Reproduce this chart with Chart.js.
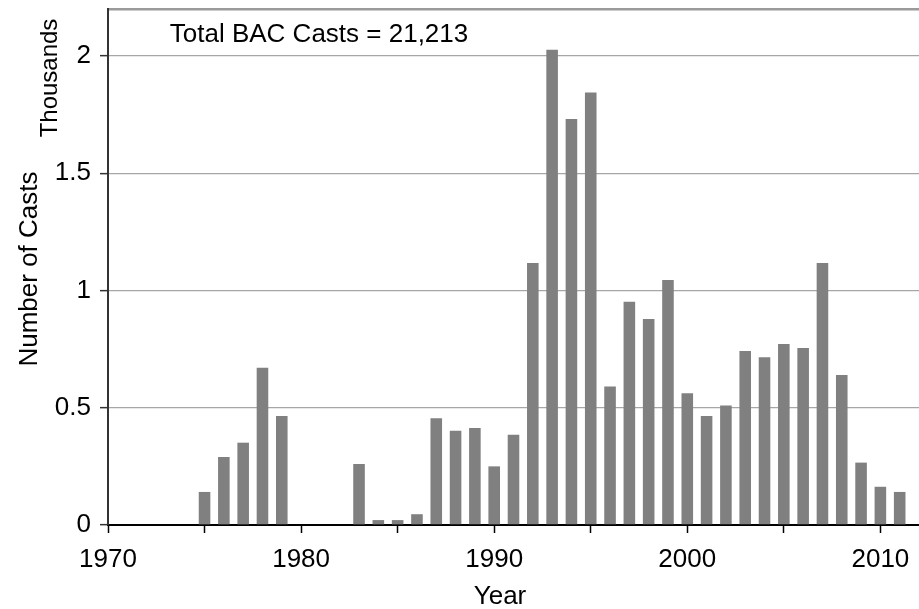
<!DOCTYPE html>
<html>
<head>
<meta charset="utf-8">
<script src="https://cdn.jsdelivr.net/npm/chart.js@4/dist/chart.umd.min.js"></script>
<style>
html,body{margin:0;padding:0;background:#fff;}
#wrap{width:919px;height:609px;}
canvas{display:block;}
</style>
</head>
<body>
<div id="wrap"><canvas id="c" width="919" height="609"></canvas></div>
<script>
// ---- data (values in thousands of casts) ----
const years = [1975,1976,1977,1978,1979,1980,1981,1982,1983,1984,1985,1986,1987,1988,1989,1990,1991,1992,1993,1994,1995,1996,1997,1998,1999,2000,2001,2002,2003,2004,2005,2006,2007,2008,2009,2010,2011];
const casts = [0.141,0.290,0.351,0.670,0.465,0,0,0,0.260,0.021,0.021,0.046,0.455,0.402,0.414,0.250,0.385,1.117,2.026,1.731,1.844,0.590,0.952,0.878,1.045,0.562,0.465,0.510,0.742,0.715,0.772,0.755,1.117,0.640,0.266,0.163,0.141];
const xTickMarks = [1970,1975,1980,1985,1990,1995,2000,2005,2010];
const xTickLabels = [1970,1980,1990,2000,2010];
const yTicks = [0,0.5,1,1.5,2];
const xMin = 1970, xMax = 2012, yMin = 0, yMax = 2.2;
const totalLabel = 'Total BAC Casts = 21,213';
const yTitle = 'Number of Casts';
const yUnit = 'Thousands';
const xTitle = 'Year';

const FONT = '"Liberation Sans", Arial, sans-serif';
Chart.defaults.font.family = FONT;
Chart.defaults.color = '#000';

const textPlugin = {
  id: 'texts',
  afterDraw(chart) {
    const ctx = chart.ctx;
    const xs = chart.scales.x, ys = chart.scales.y;
    ctx.save();
    ctx.fillStyle = '#000';
    ctx.textBaseline = 'alphabetic';
    ctx.font = '26px ' + FONT;
    ctx.textAlign = 'left';
    ctx.fillText(totalLabel, xs.getPixelForValue(1973.2), ys.getPixelForValue(2.06));
    ctx.textAlign = 'center';
    ctx.fillText(xTitle, 500, 604);
    ctx.save();
    ctx.translate(36.5, 269);
    ctx.rotate(-Math.PI / 2);
    ctx.fillText(yTitle, 0, 0);
    ctx.restore();
    ctx.save();
    ctx.font = '24px ' + FONT;
    ctx.translate(57, 78);
    ctx.rotate(-Math.PI / 2);
    ctx.fillText(yUnit, 0, 0);
    ctx.restore();
    ctx.restore();
  }
};

new Chart(document.getElementById('c'), {
  type: 'bar',
  data: {
    datasets: [{
      data: years.map((yr, i) => ({ x: yr, y: casts[i] })),
      backgroundColor: '#808080',
      borderWidth: 0,
      categoryPercentage: 1,
      barPercentage: 0.6
    }]
  },
  options: {
    responsive: false,
    animation: false,
    devicePixelRatio: 1,
    layout: { padding: { top: 9, left: 0, right: 0, bottom: 0 } },
    plugins: { legend: { display: false }, tooltip: { enabled: false } },
    scales: {
      x: {
        type: 'linear',
        offset: false,
        min: xMin,
        max: xMax,
        afterBuildTicks: s => { s.ticks = xTickMarks.map(v => ({ value: v })); },
        afterFit: s => { s.height = 84; s.paddingLeft = 0; s.paddingRight = 0; },
        ticks: {
          autoSkip: false,
          maxRotation: 0,
          padding: 11,
          font: { size: 26 },
          color: '#000',
          callback: v => xTickLabels.includes(v) ? String(v) : ''
        },
        grid: {
          offset: false,
          drawOnChartArea: false,
          drawTicks: true,
          tickLength: 8,
          tickColor: '#000',
          tickWidth: 1.5
        },
        border: { display: true, color: '#000', width: 2 }
      },
      y: {
        min: yMin,
        max: yMax,
        afterBuildTicks: s => { s.ticks = yTicks.concat([yMax]).map(v => ({ value: v })); },
        afterFit: s => { s.width = 108; s.paddingTop = 0; s.paddingBottom = 0; },
        ticks: {
          padding: 9,
          font: { size: 26 },
          color: '#000',
          callback: v => yTicks.includes(v) ? String(v) : ''
        },
        grid: {
          color: c => (c.tick && c.tick.value === yMax) ? '#9a9a9a' : '#a6a6a6',
          lineWidth: c => (c.tick && c.tick.value === yMax) ? 2.5 : 1.3,
          tickLength: 8,
          tickColor: c => (c.tick && c.tick.value === yMax) ? 'rgba(0,0,0,0)' : '#333',
          tickWidth: 1.5
        },
        border: { display: true, color: '#333', width: 2 }
      }
    }
  },
  plugins: [textPlugin]
});
</script>
</body>
</html>
